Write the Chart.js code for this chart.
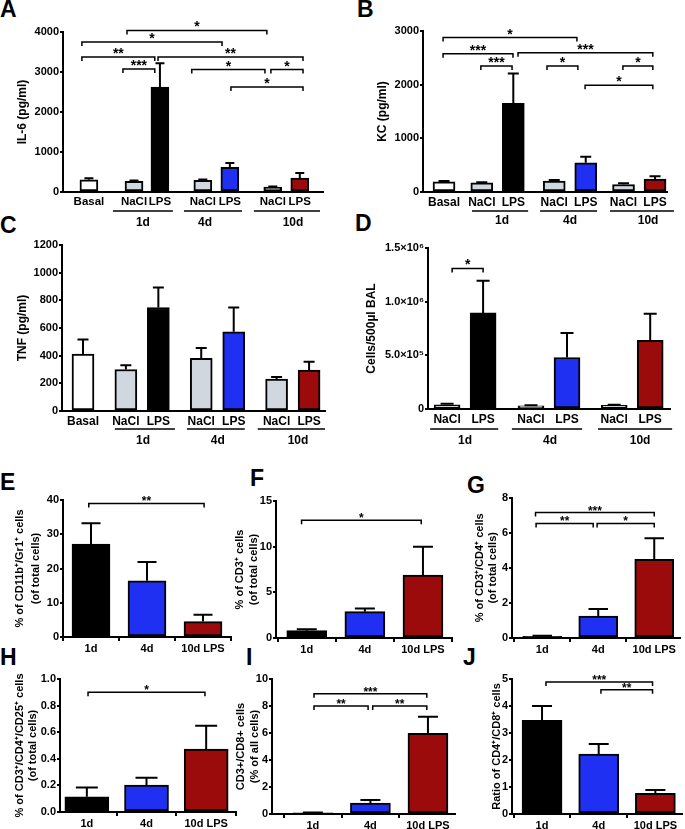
<!DOCTYPE html>
<html>
<head>
<meta charset="utf-8">
<script src="https://cdn.jsdelivr.net/npm/chart.js@4.4.1/dist/chart.umd.min.js"></script>
<style>
    body { margin: 0; background: #fff; }
    #figure { position: relative; width: 685px; height: 829px; overflow: hidden; font-family: "Liberation Sans", Arial, sans-serif; }
    #figure canvas { position: absolute; }
    .tag { position: absolute; font-weight: bold; font-size: 23px; line-height: 23px; color: #000; }
</style>
</head>
<body>
<div id="figure">
    <div class="tag" style="left:0px;top:-2px">A</div>
    <div class="tag" style="left:357px;top:-2px">B</div>
    <div class="tag" style="left:0px;top:214px">C</div>
    <div class="tag" style="left:355px;top:212px">D</div>
    <div class="tag" style="left:0px;top:471px">E</div>
    <div class="tag" style="left:250px;top:467px">F</div>
    <div class="tag" style="left:467px;top:474px">G</div>
    <div class="tag" style="left:0px;top:646px">H</div>
    <div class="tag" style="left:246px;top:646px">I</div>
    <div class="tag" style="left:463px;top:646px">J</div>
</div>
<script>
//---------------------------------------------------------------------------------------------//
//-------------------------------------------- Data -------------------------------------------//
//---------------------------------------------------------------------------------------------//
var cytoLabels = ['Basal', 'NaCl', 'LPS', 'NaCl', 'LPS', 'NaCl', 'LPS'];
var balLabels = ['NaCl', 'LPS', 'NaCl', 'LPS', 'NaCl', 'LPS'];
var dayLabels = ['1d', '4d', '10d'];
var flowLabels = ['1d', '4d', '10d LPS'];

// A : IL-6
var il6Mean = [305, 265, 2620, 290, 615, 125, 350];
var il6Sem = [40, 20, 600, 20, 110, 10, 125];
// B : KC
var kcMean = [188, 170, 1650, 205, 545, 140, 240];
var kcSem = [15, 10, 560, 20, 110, 25, 55];
// C : TNF
var tnfMean = [412, 300, 748, 380, 572, 230, 296];
var tnfSem = [105, 30, 145, 76, 177, 16, 60];
// D : BAL cells
var balMean = [40000, 895000, 30000, 480000, 35000, 640000];
var balSem = [8000, 300000, 4000, 228000, 5000, 248000];
// E - J : flow cytometry
var gr1Mean = [27.1, 16.4, 4.5];
var gr1Sem = [6.1, 5.5, 2.0];
var cd3Mean = [0.8, 2.88, 6.9];
var cd3Sem = [0.15, 0.35, 3.1];
var cd4Mean = [0.1, 1.25, 4.48];
var cd4Sem = [0.03, 0.4, 1.2];
var cd25Mean = [0.115, 0.203, 0.474];
var cd25Sem = [0.07, 0.055, 0.175];
var cd8Mean = [0.08, 0.8, 5.98];
var cd8Sem = [0.03, 0.24, 1.22];
var ratioMean = [3.47, 2.22, 0.77];
var ratioSem = [0.53, 0.37, 0.12];

// significance brackets : [from, to, level, stars]
var il6Sig = [[1.41, 6.59, 4040, '*'], [-0.26, 4.93, 3750, '*'], [-0.26, 2.44, 3375, '**'], [2.56, 7.93, 3375, '**'],
              [1.26, 2.44, 3075, '***'], [3.81, 6.52, 3060, '*'], [6.74, 7.93, 3060, '*'], [5.26, 7.93, 2625, '*']];
var kcSig = [[-0.03, 4.22, 2877, '*'], [-0.03, 2.19, 2578, '***'], [2.35, 6.63, 2597, '***'], [1.17, 2.16, 2347, '***'],
             [3.27, 4.25, 2347, '*'], [5.68, 6.63, 2347, '*'], [4.48, 6.63, 1988, '*']];
var balSig = [[0.14, 1.0, 1310000, '*']];
var gr1Sig = [[-0.04, 2.02, 39, '**']];
var cd3Sig = [[-0.09, 1.97, 12.9, '*']];
var cd4Sig = [[-0.12, 2.0, 7.15, '***'], [-0.11, 0.91, 6.53, '**'], [0.98, 2.0, 6.53, '*']];
var cd25Sig = [[0.02, 1.98, 0.9, '*']];
var cd8Sig = [[0.02, 1.98, 8.9, '***'], [0.02, 0.96, 8.0, '**'], [1.04, 1.98, 8.0, '**']];
var ratioSig = [[0.07, 1.95, 4.89, '***'], [1.04, 1.95, 4.6, '**']];

//---------------------------------------------------------------------------------------------//
//------------------------------------------ Colours ------------------------------------------//
//---------------------------------------------------------------------------------------------//
var cWhite = '#ffffff';
var cGray = '#d0d7df';
var cBlack = '#000000';
var cBlue = '#1f30f2';
var cRed = '#9c0b0b';
var cytoColors = [cWhite, cGray, cBlack, cGray, cBlue, cGray, cRed];
var balColors = [cGray, cBlack, cGray, cBlue, cGray, cRed];
var flowColors = [cBlack, cBlue, cRed];

var FONT = '"Liberation Sans", Arial, sans-serif';
Chart.defaults.font.family = FONT;
Chart.defaults.color = '#000';

//---------------------------------------------------------------------------------------------//
//------------------------------------- Drawing helpers ---------------------------------------//
//---------------------------------------------------------------------------------------------//
// error bars, brackets, group underlines
function marksPlugin(p) {
    return {
        id: 'marks',
        afterDatasetsDraw: function (chart) {
            var ctx = chart.ctx;
            var xs = chart.scales.x;
            var ys = chart.scales.y;
            var bars = chart.getDatasetMeta(0).data;
            ctx.save();
            ctx.strokeStyle = '#000';
            ctx.fillStyle = '#000';

            // ----* error bars *---- //
            ctx.lineWidth = 2;
            bars.forEach(function (bar, i) {
                var top = ys.getPixelForValue(p.values[i] + p.errors[i]);
                var half = p.barWidth * 0.25;
                ctx.beginPath();
                ctx.moveTo(bar.x, bar.y);
                ctx.lineTo(bar.x, top);
                ctx.moveTo(bar.x - half, top);
                ctx.lineTo(bar.x + half, top);
                ctx.stroke();
            });

            // ----* significance brackets *---- //
            ctx.lineWidth = 1.5;
            ctx.textAlign = 'center';
            ctx.textBaseline = 'alphabetic';
            ctx.font = 'bold ' + p.starSize + 'px ' + FONT;
            (p.brackets || []).forEach(function (b) {
                var x1 = xs.getPixelForValue(b[0]);
                var x2 = xs.getPixelForValue(b[1]);
                var y = ys.getPixelForValue(b[2]);
                ctx.beginPath();
                ctx.moveTo(x1, y + 4);
                ctx.lineTo(x1, y);
                ctx.lineTo(x2, y);
                ctx.lineTo(x2, y + 4);
                ctx.stroke();
                ctx.fillText(b[3], (x1 + x2) / 2, y + p.starDrop);
            });

            // ----* group underlines + day labels *---- //
            if (p.groups) {
                var base = chart.chartArea.bottom;
                ctx.font = 'bold 12px ' + FONT;
                ctx.textBaseline = 'middle';
                p.groups.forEach(function (g, i) {
                    var gy = base + p.lineDy;
                    ctx.beginPath();
                    ctx.moveTo(xs.getPixelForValue(g[0]), gy);
                    ctx.lineTo(xs.getPixelForValue(g[1]), gy);
                    ctx.stroke();
                    ctx.fillText(dayLabels[i], xs.getPixelForValue(g[2]), base + p.textDy);
                });
            }
            ctx.restore();
        }
    };
}

function drawPanel(p) {
    var canvas = document.createElement('canvas');
    canvas.width = p.box[2];
    canvas.height = p.box[3];
    canvas.style.left = p.box[0] + 'px';
    canvas.style.top = p.box[1] + 'px';
    document.getElementById('figure').appendChild(canvas);

    var padTop = p.area[1] - p.box[1];
    var padRight = p.box[0] + p.box[2] - p.area[2];
    var yWidth = p.area[0] - p.box[0];
    var xHeight = p.box[1] + p.box[3] - p.area[3];
    var lh = p.titleLine || 14;

    var points = p.values.map(function (v, i) {
        return { x: p.slots[i], y: v };
    });

    return new Chart(canvas, {
        type: 'bar',
        data: {
            datasets: [{
                data: points,
                backgroundColor: p.colors,
                borderColor: '#000',
                borderWidth: 2,
                borderSkipped: false,
                barThickness: p.barWidth
            }]
        },
        options: {
            responsive: false,
            animation: false,
            devicePixelRatio: 1,
            layout: { padding: { top: padTop, right: padRight, left: 0, bottom: 0 } },
            plugins: {
                legend: { display: false },
                tooltip: { enabled: false }
            },
            scales: {
                x: {
                    type: 'linear',
                    min: p.xMin,
                    max: p.xMax,
                    offset: false,
                    afterBuildTicks: function (s) {
                        s.ticks = p.slots.map(function (v) { return { value: v }; });
                    },
                    afterFit: function (s) { s.height = xHeight; },
                    grid: { display: p.xMarks, drawTicks: p.xMarks, drawOnChartArea: false, color: '#000', lineWidth: 2, tickLength: 4 },
                    border: { display: true, color: '#000', width: 2 },
                    ticks: {
                        autoSkip: false,
                        maxRotation: 0,
                        padding: p.xPad,
                        color: '#000',
                        font: { size: p.xFont, weight: 'bold' },
                        callback: function (v, i) { return p.labels[i]; }
                    }
                },
                y: {
                    min: 0,
                    max: p.yMax,
                    afterFit: function (s) { s.width = yWidth; },
                    grid: { display: true, drawOnChartArea: false, color: '#000', lineWidth: 2, tickLength: 3 },
                    border: { display: true, color: '#000', width: 2 },
                    ticks: {
                        stepSize: p.yStep,
                        padding: 1,
                        color: '#000',
                        font: { size: 11, weight: 'bold' },
                        callback: p.yFormat
                    },
                    title: {
                        display: true,
                        text: p.yTitle,
                        color: '#000',
                        font: { size: p.titleSize || 12, weight: 'bold', lineHeight: lh + 'px' },
                        padding: { top: p.titleX - p.box[0] - lh / 2, bottom: 0 }
                    }
                }
            }
        },
        plugins: [marksPlugin(p)]
    });
}

function plainTick(v) {
    return String(v);
}

//---------------------------------------------------------------------------------------------//
//------------------------------------------- Panels ------------------------------------------//
//---------------------------------------------------------------------------------------------//
// ----* A : IL-6 *---- //
drawPanel({
    box: [0, 14, 335, 218], area: [63, 32, 323, 192],
    labels: cytoLabels, values: il6Mean, errors: il6Sem, colors: cytoColors, brackets: il6Sig,
    slots: [0, 1.67, 2.63, 4.22, 5.22, 6.81, 7.81], xMin: -0.96, xMax: 8.67, barWidth: 18,
    yMax: 4000, yStep: 1000, yFormat: plainTick, yTitle: 'IL-6 (pg/ml)', titleX: 23,
    xMarks: false, xPad: 3, xFont: 11.5, starSize: 14, starDrop: 1,
    groups: [[0.89, 3.11, 2.0], [3.52, 5.67, 4.3], [6.11, 8.56, 7.56]], lineDy: 19, textDy: 31
});

// ----* B : KC *---- //
drawPanel({
    box: [340, 14, 345, 218], area: [423, 31, 667, 192],
    labels: cytoLabels, values: kcMean, errors: kcSem, colors: cytoColors, brackets: kcSig,
    slots: [0, 1.2, 2.2, 3.5, 4.5, 5.7, 6.7], xMin: -0.667, xMax: 7.08, barWidth: 22,
    yMax: 3000, yStep: 1000, yFormat: plainTick, yTitle: 'KC (pg/ml)', titleX: 383,
    xMarks: false, xPad: 3, xFont: 12, starSize: 14, starDrop: 1,
    groups: [[0.89, 2.67, 1.84], [3.05, 4.86, 4.0], [5.27, 7.3, 6.48]], lineDy: 19, textDy: 29
});

// ----* C : TNF *---- //
drawPanel({
    box: [0, 236, 335, 212], area: [62, 245, 325, 411],
    labels: cytoLabels, values: tnfMean, errors: tnfSem, colors: cytoColors, brackets: [],
    slots: [0, 1.32, 2.32, 3.64, 4.64, 5.96, 6.96], xMin: -0.646, xMax: 7.45, barWidth: 22,
    yMax: 1200, yStep: 200, yFormat: plainTick, yTitle: 'TNF (pg/ml)', titleX: 23,
    xMarks: false, xPad: 3, xFont: 12, starSize: 14, starDrop: 1,
    groups: [[0.98, 2.83, 1.85], [3.2, 4.98, 4.15], [5.38, 7.45, 6.62]], lineDy: 18, textDy: 30
});

// ----* D : BAL cells *---- //
drawPanel({
    box: [340, 236, 345, 212], area: [428, 248, 670, 409],
    labels: balLabels, values: balMean, errors: balSem, colors: balColors, brackets: balSig,
    slots: [0, 1, 2.33, 3.33, 4.64, 5.64], xMin: -0.53, xMax: 6.19, barWidth: 26,
    yMax: 1500000, yStep: 500000, yTitle: 'Cells/500µl BAL', titleX: 372,
    yFormat: function (v) {
        if (v == 0) { return '0'; }
        if (v == 500000) { return '5.0×10⁵'; }
        if (v == 1000000) { return '1.0×10⁶'; }
        if (v == 1500000) { return '1.5×10⁶'; }
        return '';
    },
    xMarks: false, xPad: 3, xFont: 12, starSize: 14, starDrop: 1,
    groups: [[-0.47, 1.42, 0.5], [1.8, 3.75, 2.86], [4.19, 6.25, 5.36]], lineDy: 20, textDy: 32
});

// ----* E : CD11b/Gr1 *---- //
drawPanel({
    box: [0, 490, 240, 170], area: [63, 500, 231, 637],
    labels: flowLabels, values: gr1Mean, errors: gr1Sem, colors: flowColors, brackets: gr1Sig,
    slots: [0, 1, 2], xMin: -0.5, xMax: 2.5, barWidth: 38,
    yMax: 40, yStep: 10, yFormat: plainTick,
    yTitle: ['% of CD11b⁺/Gr1⁺ cells', '(of total cells)'], titleX: 20, titleLine: 16, titleSize: 11,
    xMarks: true, xPad: 1, xFont: 11, starSize: 12, starDrop: 2
});

// ----* F : CD3 *---- //
drawPanel({
    box: [228, 490, 232, 170], area: [276, 501, 452, 638],
    labels: flowLabels, values: cd3Mean, errors: cd3Sem, colors: flowColors, brackets: cd3Sig,
    slots: [0, 1, 2], xMin: -0.53, xMax: 2.5, barWidth: 40,
    yMax: 15, yStep: 5, yFormat: plainTick,
    yTitle: ['% of CD3⁺ cells', '(of total cells)'], titleX: 240, titleLine: 14, titleSize: 11,
    xMarks: true, xPad: 1, xFont: 11, starSize: 12, starDrop: 2
});

// ----* G : CD3/CD4 *---- //
drawPanel({
    box: [462, 490, 223, 170], area: [512, 497, 680, 638],
    labels: flowLabels, values: cd4Mean, errors: cd4Sem, colors: flowColors, brackets: cd4Sig,
    slots: [0, 1, 2], xMin: -0.54, xMax: 2.46, barWidth: 39,
    yMax: 8, yStep: 2, yFormat: plainTick,
    yTitle: ['% of CD3⁺/CD4⁺ cells', '(of total cells)'], titleX: 480, titleLine: 13, titleSize: 11,
    xMarks: true, xPad: 1, xFont: 11, starSize: 12, starDrop: 2
});

// ----* H : CD3/CD4/CD25 *---- //
drawPanel({
    box: [0, 668, 240, 161], area: [60, 679, 236, 812],
    labels: flowLabels, values: cd25Mean, errors: cd25Sem, colors: flowColors, brackets: cd25Sig,
    slots: [0, 1, 2], xMin: -0.45, xMax: 2.5, barWidth: 44,
    yMax: 1, yStep: 0.2, yFormat: function (v) { return v.toFixed(1); },
    yTitle: ['% of CD3⁺/CD4⁺/CD25⁺ cells', '(of total cells)'], titleX: 20, titleLine: 13, titleSize: 11,
    xMarks: true, xPad: 1, xFont: 11, starSize: 12, starDrop: 2
});

// ----* I : CD3/CD8 *---- //
drawPanel({
    box: [228, 668, 232, 161], area: [272, 679, 455, 814],
    labels: flowLabels, values: cd8Mean, errors: cd8Sem, colors: flowColors, brackets: cd8Sig,
    slots: [0, 1, 2], xMin: -0.71, xMax: 2.47, barWidth: 40,
    yMax: 10, yStep: 2, yFormat: plainTick,
    yTitle: ['CD3+/CD8+ cells', '(% of all cells)'], titleX: 241, titleLine: 14, titleSize: 11,
    xMarks: true, xPad: 1, xFont: 11, starSize: 12, starDrop: 2
});

// ----* J : CD4/CD8 ratio *---- //
drawPanel({
    box: [462, 668, 223, 161], area: [512, 679, 682, 814],
    labels: flowLabels, values: ratioMean, errors: ratioSem, colors: flowColors, brackets: ratioSig,
    slots: [0, 1, 2], xMin: -0.53, xMax: 2.47, barWidth: 40,
    yMax: 5, yStep: 1, yFormat: plainTick,
    yTitle: 'Ratio of CD4⁺/CD8⁺ cells', titleX: 497, titleSize: 11,
    xMarks: true, xPad: 1, xFont: 11, starSize: 12, starDrop: 2
});
</script>
</body>
</html>
